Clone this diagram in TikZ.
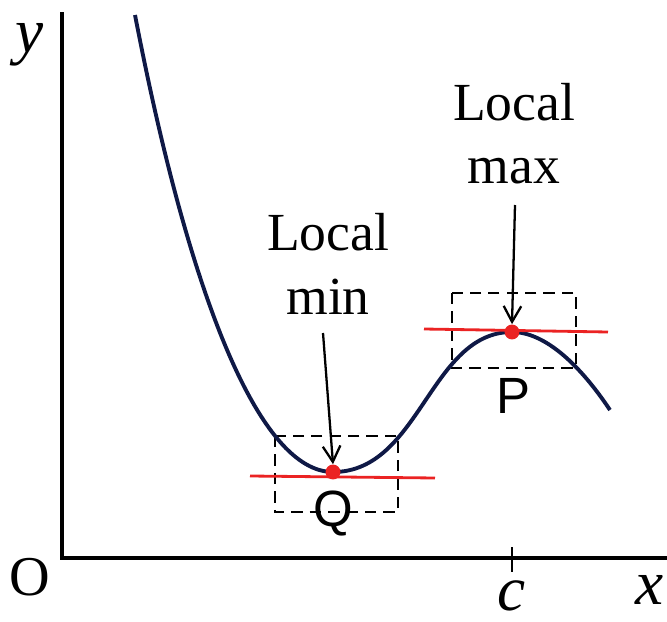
\documentclass[tikz,border=0pt]{standalone}
\usepackage{fontspec}
\setmainfont{Liberation Serif}
\newfontfamily\labelsans{Liberation Sans}
\usetikzlibrary{positioning, calc, arrows.meta}
\definecolor{curvenavy}{RGB}{15,25,70}
\definecolor{tanred}{RGB}{235,35,35}
\tikzset{
  axisline/.style={draw=black, line width=1.8pt},
  curveline/.style={draw=curvenavy, line width=2.2pt},
  tanline/.style={draw=tanred, line width=1.6pt},
  extbox/.style={draw=black, line width=1.5pt, dash pattern=on 6.5pt off 4pt},
  extdot/.style={circle, fill=tanred, minimum size=8.5pt, inner sep=0pt},
  labeltext/.style={font=\fontsize{30.5}{36}\selectfont, align=center},
  pointlabel/.style={font=\labelsans\fontsize{29}{30}\selectfont},
  axislabel/.style={font=\fontsize{36}{36}\selectfont\itshape},
  pointarrow/.style={draw=black, line width=1.3pt, -{Straight Barb[length=9pt, width=10pt, line width=1.3pt]}}
}
\begin{document}
\begin{tikzpicture}[x=0.02cm, y=-0.02cm]
  \useasboundingbox (0,0) rectangle (667,622);
  % axes
  \coordinate (origin) at (62,558);
  \coordinate (ytop) at (62,12);
  \coordinate (xend) at (667,558);
  \draw[axisline] (ytop) -- (origin) -- (xend);
  \node[axislabel] (ylab) at (30,45) {y};
  \node[axislabel] (xlab) at (650,590) {x};
  \node[font=\fontsize{32}{32}\selectfont] (olab) at (30,577) {O};
  \coordinate (ctop) at (512,547);
  \coordinate (cbot) at (512,572);
  \draw[black, line width=1.4pt] (ctop) -- (cbot);
  \node[axislabel] (clab) at (512,596) {c};
  % dashed boxes
  \draw[extbox] (275,436) rectangle (398,512);
  \draw[extbox] (452,293) rectangle (576,368);
  % curve
  \coordinate (Q) at (333,472);
  \coordinate (P) at (512,332);
  \draw[curveline] (135,15) .. controls (190,300) and (260,472) .. (Q)
    .. controls (420,472) and (430,332) .. (P)
    .. controls (545,332) and (580,365) .. (610,410);
  % tangent lines
  \coordinate (qleft) at (250,476);
  \coordinate (qright) at (435,478);
  \coordinate (pleft) at (424,329);
  \coordinate (pright) at (608,332);
  \draw[tanline] (qleft) -- (qright);
  \draw[tanline] (pleft) -- (pright);
  \node[extdot] (qdot) at (Q) {};
  \node[extdot] (pdot) at (P) {};
  % labels
  \node[labeltext] (lmin) at (328,264) {Local\\min};
  \node[labeltext] (lmax) at (514,134) {Local\\max};
  \coordinate (qtail) at (323,333);
  \coordinate (ptail) at (515,205);
  \draw[pointarrow] (qtail) -- (qdot.north);
  \draw[pointarrow] (ptail) -- (pdot.north);
  \node[pointlabel] (qlab) at (333,514) {Q};
  \node[pointlabel] (plab) at (513,396) {P};
\end{tikzpicture}
\end{document}
